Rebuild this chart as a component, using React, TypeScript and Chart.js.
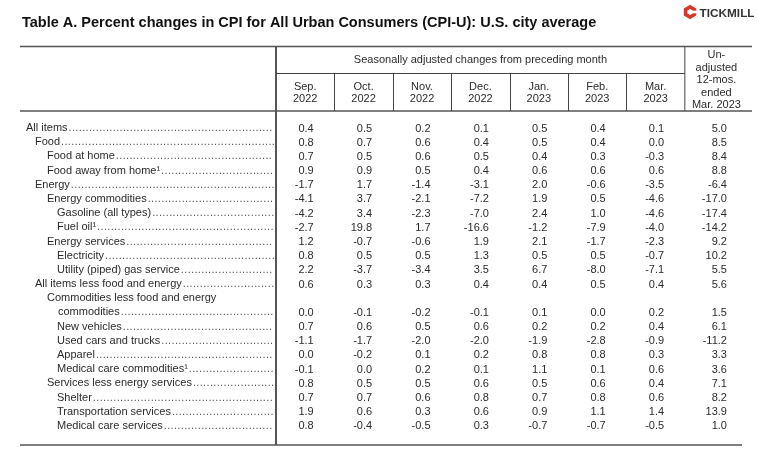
import React, { useEffect, useRef } from "react";
import { Chart, registerables } from "chart.js";

Chart.register(...registerables);

// ---------- data ----------
const title = "Table A. Percent changes in CPI for All Urban Consumers (CPI-U): U.S. city average";
const groupHeader = "Seasonally adjusted changes from preceding month";
const brand = "TICKMILL";

const columnHeaders: string[][] = [
  ["Sep.", "2022"],
  ["Oct.", "2022"],
  ["Nov.", "2022"],
  ["Dec.", "2022"],
  ["Jan.", "2023"],
  ["Feb.", "2023"],
  ["Mar.", "2023"],
  ["Un-", "adjusted", "12-mos.", "ended", "Mar. 2023"],
];

const itemLabels: string[][] = [
  ["All items"],
  ["Food"],
  ["Food at home"],
  ["Food away from home\u00B9"],
  ["Energy"],
  ["Energy commodities"],
  ["Gasoline (all types)"],
  ["Fuel oil\u00B9"],
  ["Energy services"],
  ["Electricity"],
  ["Utility (piped) gas service"],
  ["All items less food and energy"],
  ["Commodities less food and energy", "commodities"],
  ["New vehicles"],
  ["Used cars and trucks"],
  ["Apparel"],
  ["Medical care commodities\u00B9"],
  ["Services less energy services"],
  ["Shelter"],
  ["Transportation services"],
  ["Medical care services"],
];

const itemLevels = [0, 1, 2, 2, 1, 2, 3, 3, 2, 3, 3, 1, 2, 3, 3, 3, 3, 2, 3, 3, 3];

const sep2022 = [0.4, 0.8, 0.7, 0.9, -1.7, -4.1, -4.2, -2.7, 1.2, 0.8, 2.2, 0.6, 0.0, 0.7, -1.1, 0.0, -0.1, 0.8, 0.7, 1.9, 0.8];
const oct2022 = [0.5, 0.7, 0.5, 0.9, 1.7, 3.7, 3.4, 19.8, -0.7, 0.5, -3.7, 0.3, -0.1, 0.6, -1.7, -0.2, 0.0, 0.5, 0.7, 0.6, -0.4];
const nov2022 = [0.2, 0.6, 0.6, 0.5, -1.4, -2.1, -2.3, 1.7, -0.6, 0.5, -3.4, 0.3, -0.2, 0.5, -2.0, 0.1, 0.2, 0.5, 0.6, 0.3, -0.5];
const dec2022 = [0.1, 0.4, 0.5, 0.4, -3.1, -7.2, -7.0, -16.6, 1.9, 1.3, 3.5, 0.4, -0.1, 0.6, -2.0, 0.2, 0.1, 0.6, 0.8, 0.6, 0.3];
const jan2023 = [0.5, 0.5, 0.4, 0.6, 2.0, 1.9, 2.4, -1.2, 2.1, 0.5, 6.7, 0.4, 0.1, 0.2, -1.9, 0.8, 1.1, 0.5, 0.7, 0.9, -0.7];
const feb2023 = [0.4, 0.4, 0.3, 0.6, -0.6, 0.5, 1.0, -7.9, -1.7, 0.5, -8.0, 0.5, 0.0, 0.2, -2.8, 0.8, 0.1, 0.6, 0.8, 1.1, -0.7];
const mar2023 = [0.1, 0.0, -0.3, 0.6, -3.5, -4.6, -4.6, -4.0, -2.3, -0.7, -7.1, 0.4, 0.2, 0.4, -0.9, 0.3, 0.6, 0.4, 0.6, 1.4, -0.5];
const unadj12mo = [5.0, 8.5, 8.4, 8.8, -6.4, -17.0, -17.4, -14.2, 9.2, 10.2, 5.5, 5.6, 1.5, 6.1, -11.2, 3.3, 3.6, 7.1, 8.2, 13.9, 1.0];

const columns = [sep2022, oct2022, nov2022, dec2022, jan2023, feb2023, mar2023, unadj12mo];

// ---------- layout helpers ----------
const FONT = "'Liberation Sans', Arial, Helvetica, sans-serif";
const TEXT = "#2b2b2b";
const LAST_COL_END = 8.15; // last column is wider than monthly columns

// line index of each item (the row where its values sit)
const itemLine: number[] = [];
(() => {
  let line = 0;
  itemLabels.forEach((lines) => {
    line += lines.length - 1;
    itemLine.push(line);
    line += 1;
  });
})();
const totalLines = itemLine[itemLine.length - 1] + 1;

const colCenter = (c: number) => (c < 7 ? c + 0.5 : (7 + LAST_COL_END) / 2);

const tablePlugin = {
  id: "cpiTable",
  beforeDraw(chart: any) {
    const { ctx, chartArea, scales } = chart;
    const xs = scales.x;
    const ys = scales.y;
    ctx.save();
    ctx.fillStyle = "#ffffff";
    ctx.fillRect(0, 0, chart.width, chart.height);

    // title
    ctx.fillStyle = "#111";
    ctx.font = `bold 14.5px ${FONT}`;
    ctx.textAlign = "left";
    ctx.textBaseline = "alphabetic";
    ctx.fillText(title, 22, 27);

    // logo
    const cx = 690, cy = 12, r = 7.2;
    ctx.fillStyle = "#d8382c";
    ctx.beginPath();
    for (let i = 0; i < 6; i++) {
      const a = (Math.PI / 3) * i + Math.PI / 6;
      const px = cx + r * Math.cos(a), py = cy + r * Math.sin(a);
      if (i === 0) ctx.moveTo(px, py); else ctx.lineTo(px, py);
    }
    ctx.closePath();
    ctx.fill();
    ctx.fillStyle = "#fff";
    ctx.beginPath();
    for (let i = 0; i < 6; i++) {
      const a = (Math.PI / 3) * i + Math.PI / 6;
      const px = cx + 3 * Math.cos(a), py = cy + 3 * Math.sin(a);
      if (i === 0) ctx.moveTo(px, py); else ctx.lineTo(px, py);
    }
    ctx.closePath();
    ctx.fill();
    ctx.fillRect(cx + 1, cy - 1.3, r, 2.6);
    ctx.fillStyle = "#333";
    ctx.font = `bold 11.8px ${FONT}`;
    ctx.fillText(brand, 699.5, 16.5);

    // rules
    const left = 20;
    const top = 46.5;
    const headMid = 73.5;
    const headBottom = chartArea.top;
    const bottom = chartArea.bottom;
    const right = chartArea.right;
    const xDiv = xs.getPixelForValue(0);
    const xLast = xs.getPixelForValue(7);
    const line = (x1: number, y1: number, x2: number, y2: number) => {
      ctx.beginPath();
      ctx.moveTo(x1, y1);
      ctx.lineTo(x2, y2);
      ctx.stroke();
    };
    ctx.strokeStyle = "#555";
    ctx.lineWidth = 1.5;
    line(left, top, right, top);
    line(left, headBottom, right, headBottom);
    line(left, bottom, right - 10, bottom);
    ctx.lineWidth = 2;
    line(xDiv, top, xDiv, bottom);
    ctx.lineWidth = 1;
    ctx.strokeStyle = "#444";
    line(xLast, top, xLast, headBottom);
    line(xDiv, headMid, xLast, headMid);
    for (let i = 1; i < 7; i++) {
      const x = Math.round(xs.getPixelForValue(i)) + 0.5;
      line(x, headMid, x, headBottom);
    }

    // headers
    ctx.fillStyle = TEXT;
    ctx.font = `11px ${FONT}`;
    ctx.textAlign = "center";
    ctx.textBaseline = "middle";
    ctx.fillText(groupHeader, (xDiv + xLast) / 2, 60);
    columnHeaders.forEach((lines, c) => {
      const x = xs.getPixelForValue(colCenter(c)) - (c === 7 ? 2 : 0);
      if (c < 7) {
        lines.forEach((t, j) => ctx.fillText(t, x, 86.5 + j * 12));
      } else {
        lines.forEach((t, j) => ctx.fillText(t, x, 55 + j * 12.5));
      }
    });

    // row labels with dot leaders
    const indent = [26, 35, 47, 57];
    const dotEnd = xDiv - 4;
    ctx.textAlign = "left";
    let lineNo = 0;
    itemLabels.forEach((lines, k) => {
      const lvl = itemLevels[k];
      lines.forEach((t, j) => {
        const y = ys.getPixelForValue(lineNo);
        const x = indent[lvl] + (j > 0 ? 11 : 0);
        ctx.fillStyle = TEXT;
        ctx.fillText(t, x, y);
        if (j === lines.length - 1) {
          const w = ctx.measureText(t).width;
          ctx.fillStyle = "#555";
          for (let d = x + w + 1; d < dotEnd; d += 3.4) ctx.fillText(".", d, y);
        }
        lineNo++;
      });
    });
    ctx.restore();
  },
  afterDatasetsDraw(chart: any) {
    const { ctx } = chart;
    ctx.save();
    ctx.fillStyle = TEXT;
    ctx.font = `11px ${FONT}`;
    ctx.textAlign = "right";
    ctx.textBaseline = "middle";
    chart.data.datasets.forEach((ds: any, c: number) => {
      const meta = chart.getDatasetMeta(c);
      meta.data.forEach((el: any, k: number) => {
        const v = ds.data[k].v as number;
        ctx.fillText(v.toFixed(1), el.x + 8.5, el.y + 0.5);
      });
    });
    ctx.restore();
  },
};

export default function App() {
  const ref = useRef<HTMLCanvasElement | null>(null);
  useEffect(() => {
    if (!ref.current) return;
    const chart = new Chart(ref.current, {
      type: "scatter",
      data: {
        datasets: columns.map((vals, c) => ({
          label: columnHeaders[c].join(" "),
          data: vals.map((v, k) => ({ x: colCenter(c), y: itemLine[k], v })),
          pointRadius: 0,
          pointHoverRadius: 0,
          showLine: false,
        })),
      },
      options: {
        responsive: false,
        animation: false,
        devicePixelRatio: 1,
        events: [],
        layout: { padding: { left: 276, right: 6, top: 111, bottom: 14 } },
        plugins: { legend: { display: false }, tooltip: { enabled: false } },
        scales: {
          x: { type: "linear", display: false, min: 0, max: LAST_COL_END },
          y: { type: "linear", display: false, min: -1.2, max: totalLines + 0.35, reverse: true },
        },
      },
      plugins: [tablePlugin],
    } as any);
    return () => chart.destroy();
  }, []);
  return (
    <canvas
      ref={ref}
      width={758}
      height={459}
      style={{ position: "fixed", left: 0, top: 0, width: 758, height: 459, display: "block" }}
    />
  );
}
